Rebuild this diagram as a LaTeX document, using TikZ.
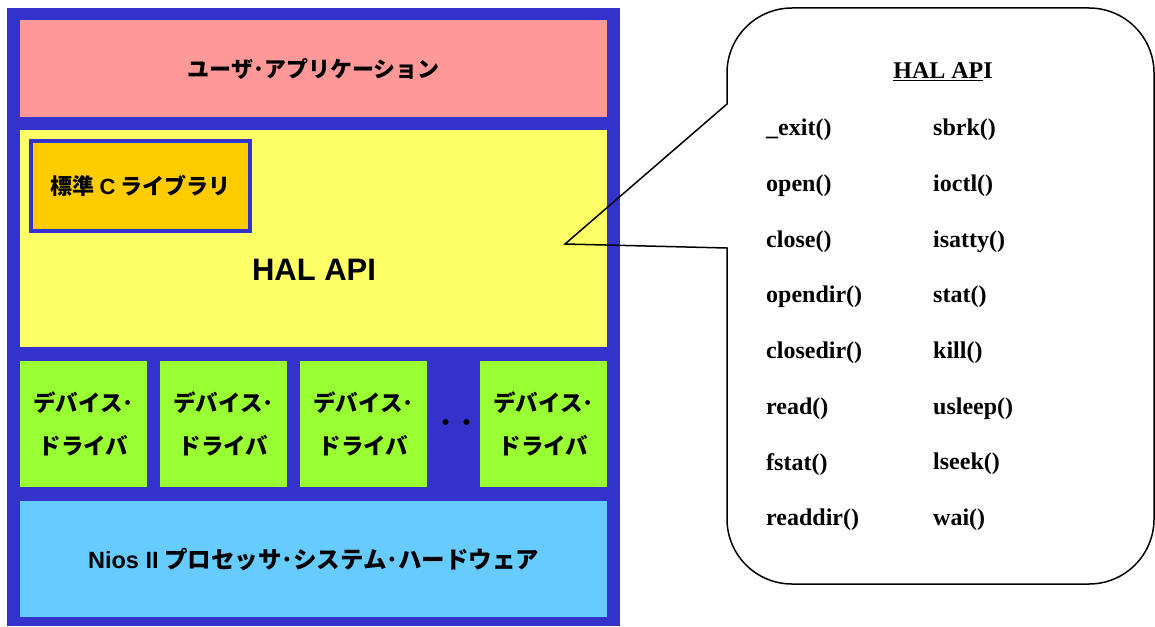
\documentclass[tikz,border=0pt]{standalone}
\usepackage{fontspec}
\setmainfont{Liberation Serif}
\newfontfamily\jpfont{Noto Sans CJK JP}
\newfontfamily\latfont{Liberation Sans}
\definecolor{frameblue}{HTML}{3333CC}
\definecolor{apppink}{HTML}{FF9999}
\definecolor{halyellow}{HTML}{FFFF66}
\definecolor{liborange}{HTML}{FFCC00}
\definecolor{drvgreen}{HTML}{99FF33}
\definecolor{hwcyan}{HTML}{66CCFF}
\begin{document}
\begin{tikzpicture}[x=1pt,y=-1pt,
  layer/.style={inner sep=0pt,anchor=north west,font=\jpfont\bfseries\fontsize{22}{26}\selectfont},
  drv/.style={layer,fill=drvgreen,minimum width=127pt,minimum height=126pt,align=center,
    font=\jpfont\bfseries\fontsize{22.5}{43}\selectfont},
  fn/.style={anchor=west,inner sep=0pt,font=\bfseries\fontsize{24}{28}\selectfont}]
\useasboundingbox (0,0) rectangle (1155,626);
% software stack
\fill[frameblue] (7,8) rectangle (620,626);
\node[layer,fill=apppink,minimum width=587pt,minimum height=97pt] (app) at (20,20) {ユーザ･アプリケーション};
\node[layer,fill=halyellow,minimum width=587pt,minimum height=217pt] (hal) at (20,130) {};
\node[font=\latfont\bfseries\fontsize{31}{36}\selectfont] (halname) at (314,270) {HAL API};
\node[layer,fill=liborange,draw=frameblue,line width=4pt,minimum width=219pt,minimum height=90pt] (libc) at (29,139)
  {標準 {\latfont C} ライブラリ};
\node[drv] (drv1) at (20,361) {デバイス･\\ドライバ};
\node[drv] (drv2) at (160,361) {デバイス･\\ドライバ};
\node[drv] (drv3) at (300,361) {デバイス･\\ドライバ};
\node[drv] (drv4) at (480,361) {デバイス･\\ドライバ};
\node[font=\jpfont\bfseries\fontsize{21}{26}\selectfont] (dots) at (456,425) {・・};
\node[layer,fill=hwcyan,minimum width=587pt,minimum height=116pt,font=\jpfont\bfseries\fontsize{23.5}{26}\selectfont] (hw) at (20,501)
  {{\latfont Nios II} プロセッサ･システム･ハードウェア};
% callout with the API list
\draw[line width=1.5pt] (565,244) -- (727,248) [rounded corners=65pt] -- (727,584) -- (1154,584)
  -- (1154,8) -- (727,8) [sharp corners] -- (727,104) -- cycle;
\node[font=\bfseries\fontsize{24}{28}\selectfont] (apititle) at (943,72) {\underline{HAL AP}I};
\foreach \fa/\fb [count=\i from 0] in {\_exit()/sbrk(), open()/ioctl(), close()/isatty(),
    opendir()/stat(), closedir()/kill(), read()/usleep(), fstat()/lseek(), readdir()/wai()}
{
  \node[fn] (fa\i) at (766,130+55.7*\i) {\fa};
  \node[fn] (fb\i) at (933,130+55.7*\i) {\fb};
}
\end{tikzpicture}
\end{document}
